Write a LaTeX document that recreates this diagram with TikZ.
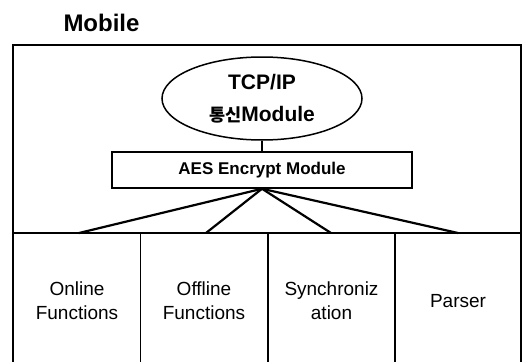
\documentclass[tikz,border=0pt]{standalone}
\usepackage{fontspec}
\setmainfont{Liberation Sans}
\newfontfamily\krfont{Noto Sans CJK KR Bold}
\usetikzlibrary{shapes.geometric}
\begin{document}
\begin{tikzpicture}[x=1pt,y=-1pt,
  frame/.style={line width=1.6pt},
  link/.style={line width=2.2pt},
  titletext/.style={font=\bfseries\fontsize{24}{28}\selectfont, inner sep=0pt},
  oval/.style={ellipse, draw, line width=1.5pt, minimum width=200pt, minimum height=83pt, inner sep=0pt, align=center, font=\bfseries\fontsize{21}{32}\selectfont},
  aesbox/.style={rectangle, draw, line width=1.5pt, minimum width=300pt, minimum height=36pt, inner sep=0pt, font=\bfseries\fontsize{17}{20}\selectfont},
  celltext/.style={align=center, inner sep=0pt, font=\fontsize{19}{24}\selectfont}
]
\useasboundingbox (0,0) rectangle (529,361);
% outer frame (open at the bottom edge)
\coordinate (fbl) at (13,362);
\coordinate (ftl) at (13,45);
\coordinate (ftr) at (521,45);
\coordinate (fbr) at (521,362);
\draw[frame] (fbl) -- (ftl) -- (ftr) -- (fbr);
% divider and cells
\coordinate (dl) at (13,233);
\coordinate (dr) at (521,233);
\draw[frame] (dl) -- (dr);
\coordinate (v1t) at (140.5,233); \coordinate (v1b) at (140.5,362);
\coordinate (v2t) at (268,233);   \coordinate (v2b) at (268,362);
\coordinate (v3t) at (395,233);   \coordinate (v3b) at (395,362);
\draw[frame] (v1t) -- (v1b);
\draw[frame] (v2t) -- (v2b);
\draw[frame] (v3t) -- (v3b);
% title
\node[titletext, anchor=base] (mobile) at (101.5,32) {Mobile};
% modules
\node[oval] (tcp) at (262,98.5) {TCP/IP\\{\krfont\fontsize{17.5}{32}\selectfont 통신}Module};
\node[aesbox] (aes) at (262,170) {AES Encrypt Module};
\draw[frame] (tcp.south) -- (aes.north);
% cell texts
\node[celltext] (online) at (77,301) {Online\\Functions};
\node[celltext] (offline) at (204,301) {Offline\\Functions};
\node[celltext] (sync) at (331.5,301) {Synchroniz\\ation};
\node[celltext] (parser) at (458,301) {Parser};
% connectors
\coordinate (c1) at (79,233);
\coordinate (c2) at (206,233);
\coordinate (c3) at (331,233);
\coordinate (c4) at (458,233);
\draw[link] (aes.south) -- (c1);
\draw[link] (aes.south) -- (c2);
\draw[link] (aes.south) -- (c3);
\draw[link] (aes.south) -- (c4);
\end{tikzpicture}
\end{document}
